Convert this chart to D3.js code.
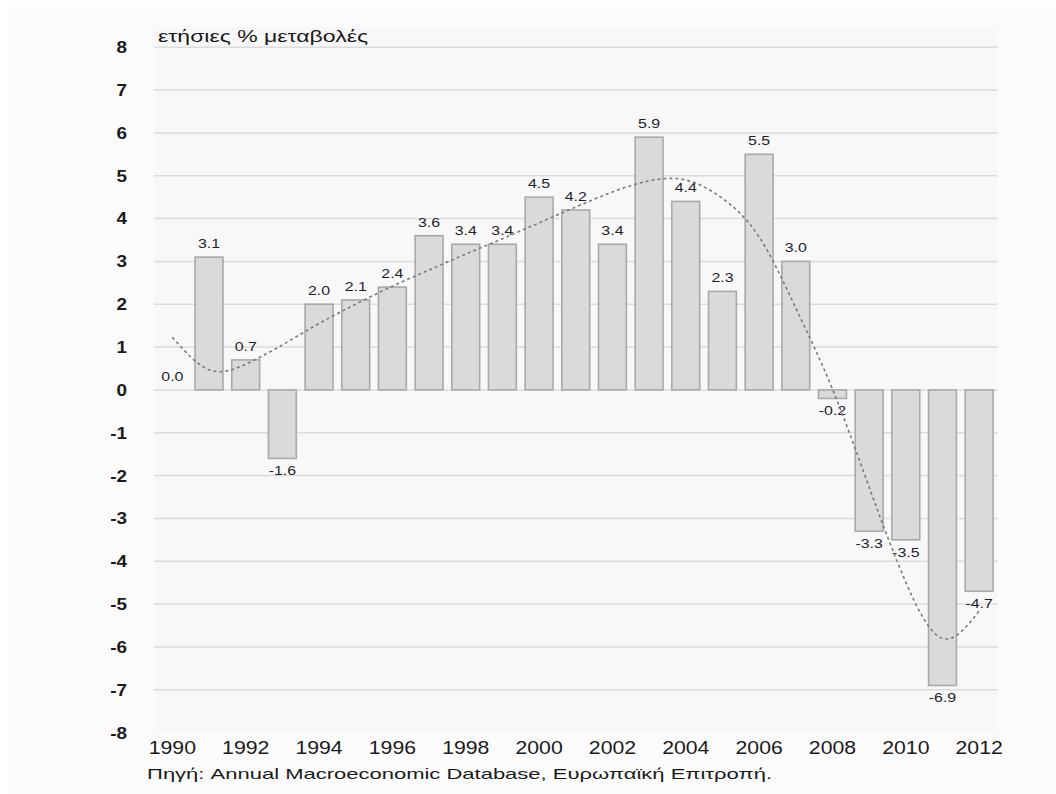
<!DOCTYPE html>
<html>
<head>
<meta charset="utf-8">
<script src="https://cdn.jsdelivr.net/npm/d3@7"></script>
<style>
  body { margin: 0; background: #fff; }
  svg { display: block; font-family: "Liberation Sans", Arial, Helvetica, sans-serif; }
</style>
</head>
<body>
<svg id="chart" width="1056" height="794"></svg>
<script>
// Data
var years = d3.range(1990, 2013);
var values = [0.0, 3.1, 0.7, -1.6, 2.0, 2.1, 2.4, 3.6, 3.4, 3.4, 4.5, 4.2, 3.4, 5.9, 4.4, 2.3, 5.5, 3.0, -0.2, -3.3, -3.5, -6.9, -4.7];
// Dashed trend line at each year
var trend = [1.23, 0.47, 0.60, 1.05, 1.55, 2.00, 2.42, 2.80, 3.17, 3.53, 3.90, 4.27, 4.62, 4.88, 4.90, 4.47, 3.57, 1.91, 0.02, -2.27, -4.49, -5.80, -5.16];
var yTicks = d3.range(-8, 9);
var xTickYears = d3.range(1990, 2013, 2);
var titleText = 'ετήσιες % μεταβολές';
var sourceText = 'Πηγή: Annual Macroeconomic Database, Ευρωπαϊκή Επιτροπή.';

var width = 1056,
    height = 794,
    plot = {left: 154, right: 997.5, top: 47.2, bottom: 732.6},
    stretch = 1.18; // text in the picture is a bit wide

var svg = d3.select('#chart');

// Panel backgrounds
svg.append('rect')
    .attr('x', 9).attr('y', 7)
    .attr('width', width - 9).attr('height', height - 7)
    .attr('fill', '#fbfbfb');

svg.append('rect')
    .attr('x', plot.left).attr('y', plot.top - 20)
    .attr('width', plot.right - plot.left).attr('height', plot.bottom - plot.top + 20)
    .attr('fill', '#f8f8f8');

// Scales
var x = d3.scaleBand()
    .domain(years)
    .range([plot.left, plot.right])
    .paddingInner(0.24)
    .paddingOuter(0.12);

var y = d3.scaleLinear()
    .domain([-8, 8])
    .range([plot.bottom, plot.top]);

// Gridlines (no line at the bottom value)
svg.append('g')
    .selectAll('line')
    .data(yTicks.filter(function(d) { return d > -8; }))
    .enter().append('line')
    .attr('x1', plot.left)
    .attr('x2', plot.right)
    .attr('y1', function(d) { return y(d); })
    .attr('y2', function(d) { return y(d); })
    .attr('stroke', '#dcdcdc')
    .attr('stroke-width', 1.5);

// Y axis, plain hyphen for negatives
var yAxis = svg.append('g')
    .attr('transform', 'translate(127,0)')
    .call(d3.axisLeft(y).tickValues(yTicks).tickSize(0).tickPadding(0)
        .tickFormat(function(d) { return String(d); }));
yAxis.select('.domain').remove();
yAxis.selectAll('text')
    .attr('transform', 'scale(' + stretch + ',1)')
    .attr('dy', '0.34em')
    .style('font-size', '16px')
    .style('font-weight', 'bold')
    .style('fill', '#1a1a1a');

// X axis
var xAxis = svg.append('g')
    .attr('transform', 'translate(0,' + plot.bottom + ')')
    .call(d3.axisBottom(x).tickValues(xTickYears).tickSize(0).tickPadding(8.5));
xAxis.select('.domain').remove();
xAxis.selectAll('text')
    .attr('transform', 'scale(' + stretch + ',1)')
    .style('font-size', '18px')
    .style('fill', '#1a1a1a');

// Bars
var data = years.map(function(yr, i) { return {year: yr, value: values[i], trend: trend[i]}; });

svg.append('g')
    .selectAll('rect')
    .data(data.filter(function(d) { return d.value !== 0; }))
    .enter().append('rect')
    .attr('x', function(d) { return x(d.year); })
    .attr('width', x.bandwidth())
    .attr('y', function(d) { return y(Math.max(0, d.value)); })
    .attr('height', function(d) { return Math.abs(y(d.value) - y(0)); })
    .attr('fill', '#dadada')
    .attr('stroke', '#a9a9a9')
    .attr('stroke-width', 1.6);

// Value labels
svg.append('g')
    .selectAll('text')
    .data(data)
    .enter().append('text')
    .attr('transform', function(d) {
        var ty = d.value >= 0 ? y(d.value) - 9 : y(d.value) + 17;
        return 'translate(' + (x(d.year) + x.bandwidth() / 2) + ',' + ty + ') scale(' + stretch + ',1)';
    })
    .attr('text-anchor', 'middle')
    .style('font-size', '13.5px')
    .style('fill', '#1f1f2a')
    .text(function(d) { return d.value.toFixed(1); });

// Trend line
var line = d3.line()
    .x(function(d) { return x(d.year) + x.bandwidth() / 2; })
    .y(function(d) { return y(d.trend); })
    .curve(d3.curveNatural);

svg.append('path')
    .datum(data)
    .attr('d', line)
    .attr('fill', 'none')
    .attr('stroke', '#7a7a7a')
    .attr('stroke-width', 1.6)
    .attr('stroke-dasharray', '3,3');

// Title and source
svg.append('text')
    .attr('x', 158)
    .attr('y', 42)
    .attr('textLength', 210)
    .attr('lengthAdjust', 'spacingAndGlyphs')
    .style('font-size', '16px')
    .style('fill', '#1a1a1a')
    .text(titleText);

svg.append('text')
    .attr('x', 147)
    .attr('y', 779)
    .attr('textLength', 625)
    .attr('lengthAdjust', 'spacingAndGlyphs')
    .style('font-size', '15px')
    .style('fill', '#1a1a1a')
    .text(sourceText);
</script>
</body>
</html>
